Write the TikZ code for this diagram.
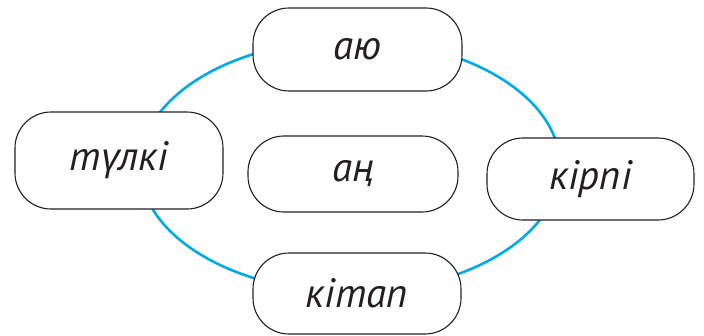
\documentclass[tikz,border=0pt]{standalone}
\usepackage{fontspec}
\newfontfamily\ptsans{PT Sans}
\definecolor{ringblue}{RGB}{0,170,235}
\definecolor{ink}{RGB}{35,31,32}
\begin{document}
\begin{tikzpicture}[x=1pt,y=-1pt,
  wordbox/.style={draw=ink, line width=1.1pt, fill=white, rounded corners=36pt,
    minimum width=#1, inner sep=0pt, font=\ptsans\itshape\fontsize{41}{43}\selectfont, text=ink},
  wordbox/.default=208pt]
\useasboundingbox (0,0) rectangle (704,335);
\fill[white] (0,0) rectangle (704,335);
\draw[ringblue, line width=2.6pt] (350,166) ellipse [x radius=210, y radius=126];
\node[wordbox=209pt, minimum height=83pt] (ayu) at (357.5,49.5) {аю};
\node[wordbox=208pt, minimum height=97pt] (tulki) at (119,160.5) {түлкі};
\node[wordbox=210pt, minimum height=76pt] (an) at (353,174) {аң};
\node[wordbox=207pt, minimum height=82pt] (kirpi) at (590.5,179) {кірпі};
\node[wordbox=208pt, minimum height=81pt] (kitap) at (357,293.5) {кітап};
\end{tikzpicture}
\end{document}
